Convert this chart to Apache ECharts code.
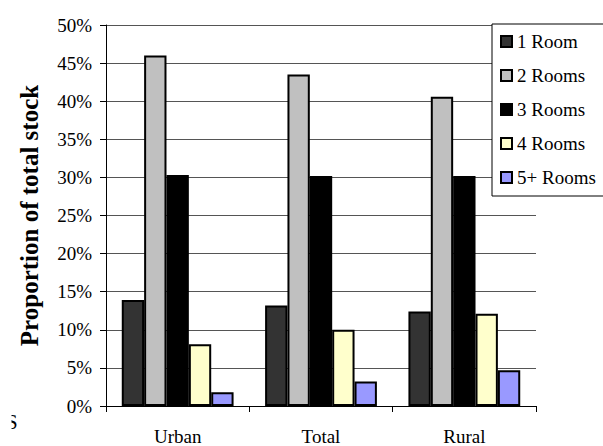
<!DOCTYPE html>
<html>
<head>
<meta charset="utf-8">
<style>
  html, body { margin: 0; padding: 0; background: #fff; }
  #chart { width: 603px; height: 446px; }
</style>
<script src="https://cdn.jsdelivr.net/npm/echarts@6/dist/echarts.min.js"></script>
</head>
<body>
<div id="chart"></div>
<script>
// Housing stock by number of rooms, share of total stock per area
const categories = ['Urban', 'Total', 'Rural'];
const roomTypes = ['1 Room', '2 Rooms', '3 Rooms', '4 Rooms', '5+ Rooms'];
const oneRoom   = [13.9, 13.2, 12.4];
const twoRooms  = [46.0, 43.5, 40.6];
const threeRooms = [30.3, 30.2, 30.2];
const fourRooms = [8.1, 10.0, 12.1];
const fivePlusRooms = [1.8, 3.2, 4.7];
const yTicks = [0, 5, 10, 15, 20, 25, 30, 35, 40, 45, 50];

const seriesValues = [oneRoom, twoRooms, threeRooms, fourRooms, fivePlusRooms];
const fillColors = ['#333333', '#c0c0c0', '#000000', '#ffffcc', '#9999ff'];
const serif = '"Liberation Serif", "Times New Roman", "DejaVu Serif", serif';

const chart = echarts.init(document.getElementById('chart'), null, { renderer: 'svg' });

chart.setOption({
  animation: false,
  backgroundColor: '#ffffff',
  textStyle: { fontFamily: serif, color: '#000' },
  grid: { left: 106, right: 67, top: 25, bottom: 40, containLabel: false },
  legend: {
    orient: 'vertical',
    left: 492,
    top: 24,
    padding: [8, 8, 9, 8],
    itemWidth: 11,
    itemHeight: 11,
    itemGap: 15,
    backgroundColor: '#ffffff',
    borderColor: '#000000',
    borderWidth: 1,
    icon: 'rect',
    textStyle: { fontFamily: serif, fontSize: 19, color: '#000' },
    data: roomTypes
  },
  xAxis: {
    type: 'category',
    data: categories,
    boundaryGap: true,
    axisLine: { lineStyle: { color: '#000', width: 1 } },
    axisTick: { show: true, length: 6, inside: false, lineStyle: { color: '#000' } },
    axisLabel: { fontFamily: serif, fontSize: 19, color: '#000', margin: 21 },
    splitLine: { show: false }
  },
  yAxis: {
    type: 'value',
    min: yTicks[0],
    max: yTicks[yTicks.length - 1],
    interval: yTicks[1] - yTicks[0],
    name: 'Proportion of total stock',
    nameLocation: 'middle',
    nameRotate: 90,
    nameGap: 64,
    nameTextStyle: { fontFamily: serif, fontSize: 25, fontWeight: 'bold', color: '#000' },
    axisLine: { show: true, lineStyle: { color: '#000', width: 1 } },
    axisTick: { show: true, length: 6, lineStyle: { color: '#000' } },
    axisLabel: {
      fontFamily: serif, fontSize: 19, color: '#000', margin: 14,
      formatter: v => v + '%'
    },
    splitLine: { show: true, lineStyle: { color: '#555', width: 1 } }
  },
  series: roomTypes.map((name, i) => ({
    name: name,
    type: 'bar',
    data: seriesValues[i],
    barGap: '0%',
    barCategoryGap: '22%',
    itemStyle: { color: fillColors[i], borderColor: '#000', borderWidth: 2 }
  })),
  graphic: [
    {
      type: 'text',
      left: 6,
      top: 411,
      z: 100,
      style: { text: 'S', fontFamily: serif, fontSize: 21, fill: '#000' }
    },
    {
      type: 'rect',
      left: 0,
      top: 405,
      z: 101,
      shape: { width: 11.5, height: 30 },
      style: { fill: '#ffffff' }
    }
  ]
});
</script>
</body>
</html>
